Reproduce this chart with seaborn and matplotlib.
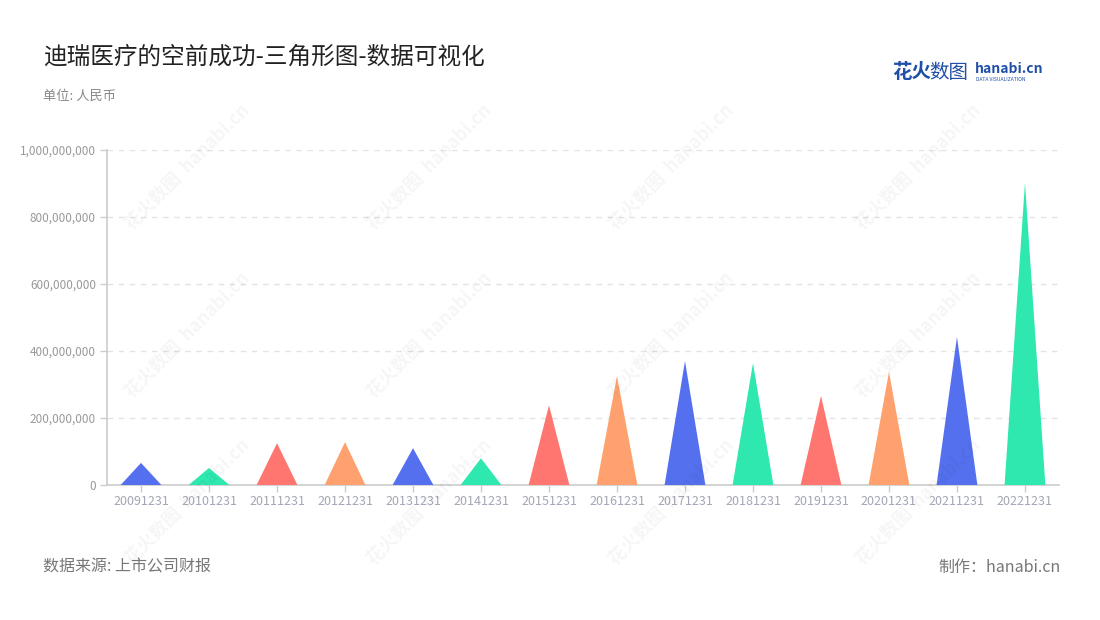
import numpy as np
import matplotlib.pyplot as plt
import pandas as pd
import seaborn as sns
from matplotlib.patches import Polygon
from matplotlib.ticker import FuncFormatter

# data
dates = ['20091231', '20101231', '20111231', '20121231', '20131231', '20141231', '20151231',
         '20161231', '20171231', '20181231', '20191231', '20201231', '20211231', '20221231']
profit = [66e6, 51e6, 125e6, 128e6, 110e6, 80e6, 238e6,
          325e6, 370e6, 364e6, 266e6, 338e6, 442e6, 902e6]
palette = ['#5470ee', '#2ee8b0', '#ff7670', '#ffa16e']

df = pd.DataFrame({'date': dates, 'value': profit})
df['colour'] = [palette[i % 4] for i in range(len(df))]

sns.set_theme(style='white')
plt.rcParams['font.family'] = ['Noto Sans CJK SC', 'DejaVu Sans']

fig = plt.figure(figsize=(11, 6.2), dpi=100)
ax = fig.add_axes([0.0973, 0.2177, 0.8654, 0.5403])

sns.barplot(data=df, x='date', y='value', hue='date', palette=list(df['colour']),
            width=0.6, legend=False, ax=ax)

# turn every bar into a triangle
for patch, c in zip(list(ax.patches), df['colour']):
    x0 = patch.get_x()
    w = patch.get_width()
    h = patch.get_height()
    patch.remove()
    ax.add_patch(Polygon([[x0, 0], [x0 + w / 2, h], [x0 + w, 0]], closed=True,
                         facecolor=c, edgecolor='none', zorder=3))

ax.set_xlim(-0.5, len(dates) - 0.5)
ax.set_ylim(0, 1e9)
ax.set_yticks(np.arange(0, 1.01e9, 2e8))
ax.yaxis.set_major_formatter(FuncFormatter(lambda v, p: f'{int(v):,}'))
ax.grid(axis='y', color='#e3e3e3', linestyle=(0, (4, 4)), linewidth=1)
ax.set_axisbelow(True)
ax.set_xlabel('')
ax.set_ylabel('')

for s in ['top', 'right']:
    ax.spines[s].set_visible(False)
for s in ['left', 'bottom']:
    ax.spines[s].set_color('#cccccc')
    ax.spines[s].set_linewidth(1.2)

ax.tick_params(axis='x', colors='#cccccc', labelcolor='#a3a6b4', labelsize=9,
               length=5, width=1, bottom=True, pad=2)
ax.tick_params(axis='y', colors='#cccccc', labelcolor='#999999', labelsize=8.5,
               length=5, width=1, left=True, pad=3)

# titles and notes
fig.text(0.039, 0.908, '迪瑞医疗的空前成功-三角形图-数据可视化', fontsize=17, color='#222222',
         va='center', ha='left')
fig.text(0.039, 0.845, '单位: 人民币', fontsize=9.5, color='#888888', va='center', ha='left')
fig.text(0.039, 0.085, '数据来源: 上市公司财报', fontsize=11.5, color='#777777', va='center', ha='left')
fig.text(0.964, 0.085, '制作：hanabi.cn', fontsize=11.5, color='#777777', va='center', ha='right')

# logo
fig.text(0.811, 0.883, '花火', fontsize=14, color='#1f4fa8', fontweight='bold', va='center')
fig.text(0.845, 0.883, '数图', fontsize=14, color='#1f4fa8', va='center')
fig.text(0.886, 0.888, 'hanabi.cn', fontsize=10, color='#1f4fa8', fontweight='bold', va='center')
fig.text(0.887, 0.871, 'DATA VISUALIZATION', fontsize=3.6, color='#1f4fa8', va='center')

# faint watermarks
for wx in [0.17, 0.39, 0.61, 0.835]:
    for wy in [0.73, 0.46, 0.19]:
        fig.text(wx, wy, '花火数图  hanabi.cn', fontsize=13, color='#000000', alpha=0.04,
                 rotation=45, ha='center', va='center', fontweight='bold')

plt.savefig('out.png', dpi=100)
